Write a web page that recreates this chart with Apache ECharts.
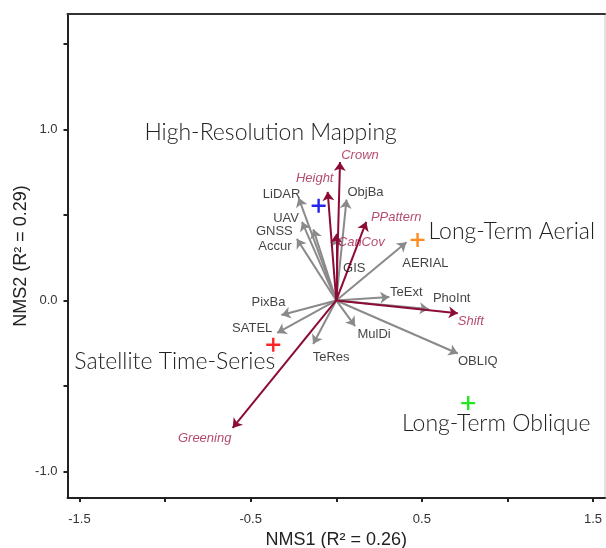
<!DOCTYPE html>
<html><head><meta charset="utf-8">
<script src="https://cdn.jsdelivr.net/npm/echarts@6/dist/echarts.min.js"></script>
<style>html,body{margin:0;padding:0;background:#fff}#c{width:606px;height:548px}</style>
</head><body><div id="c"></div>
<script>
// ---- data ----
const grayNames = ['GIS','LiDAR','UAV','GNSS','Accur','ObjBa','AERIAL','TeExt','PhoInt','PixBa','SATEL','TeRes','MulDi','OBLIQ'];
const grayX =     [0.0, -0.22, -0.20, -0.134, -0.23, 0.06, 0.41, 0.31, 0.54, -0.32, -0.345, -0.135, 0.11, 0.71];
const grayY =     [0.37, 0.60, 0.46, 0.416, 0.36, 0.59, 0.34, 0.02, -0.05, -0.085, -0.19, -0.255, -0.15, -0.31];
const redNames = ['Crown','Height','CanCov','PPattern','Shift','Greening'];
const redX =     [0.022, -0.05, 0.0, 0.175, 0.71, -0.605];
const redY =     [0.81, 0.635, 0.39, 0.46, -0.075, -0.745];
const groupNames = ['High-Resolution Mapping','Long-Term Aerial','Satellite Time-Series','Long-Term Oblique'];
const groupX = [-0.103, 0.475, -0.368, 0.771];
const groupY = [0.554, 0.354, -0.259, -0.60];
const xTicks = [-1.5,-1,-0.5,0,0.5,1,1.5];
const xTickLabels = [-1.5,-0.5,0.5,1.5];
const yTicks = [-1,-0.5,0,0.5,1,1.5];
const yTickLabels = [-1,0,1];

// ---- layout (pixel offsets for labels) ----
const labelOffset = {
  GIS:[18,31], LiDAR:[-17,-3], UAV:[-16,-3], GNSS:[-39,2], Accur:[-22,8], ObjBa:[19,-7],
  AERIAL:[19,21], TeExt:[17,-5], PhoInt:[23,-11], PixBa:[-13,-13], SATEL:[-25,-5],
  TeRes:[18,13], MulDi:[19,8], OBLIQ:[20,8],
  Crown:[20,-7], Height:[-13,-13], CanCov:[25,9], PPattern:[30,-4], Shift:[13,8], Greening:[-28,11]
};
const groupColors = ['#2424f0','#ff8a1e','#ff2424','#22e622'];
const groupLabel = [
  {offset:[-48,-73], align:'center'},
  {offset:[11,-8], align:'left'},
  {offset:[2,17], align:'right'},
  {offset:[28,20], align:'center'}
];

const GRAY = '#8a8a8a', RED = '#8c0c34', REDTXT = '#a1214e';
const FONT = '"Liberation Sans", Arial, sans-serif';

const chart = echarts.init(document.getElementById('c'), null, {renderer:'canvas'});
const fmt = v => (v < 0 ? '-' : '') + Math.abs(v).toFixed(1);
const lines = (names, xs, ys, color) => ({
  type:'lines', coordinateSystem:'cartesian2d', silent:true, z:3,
  symbol:['none','arrow'], symbolSize:9,
  lineStyle:{color:color, width:2, opacity:1},
  data: names.map((n,i)=>({coords:[[0,0],[xs[i],ys[i]]]}))
});
const labels = (names, xs, ys, color, italic) => ({
  type:'scatter', symbolSize:0, silent:true, z:5,
  label:{show:true, position:'inside', formatter:p=>p.name, color:color, fontSize:13,
    fontFamily:FONT, fontStyle: italic?'italic':'normal'},
  data: names.map((n,i)=>({name:n, value:[xs[i],ys[i]], label:{offset:labelOffset[n]}}))
});
const plusPath = 'path://M0,6L14,6L14,8.4L0,8.4ZM5.8,0L8.2,0L8.2,14.4L5.8,14.4Z';

chart.setOption({
  animation:false,
  backgroundColor:'#fff',
  grid:{left:67.5, top:14, right:1, bottom:50, show:true, borderColor:'#c8c8c8', borderWidth:1,
        outerBoundsMode:'none', containLabel:false},
  xAxis:[{
    type:'value', min:-1.57, max:1.57,
    name:'NMS1 (R\u00B2 = 0.26)', nameLocation:'middle', nameGap:33, nameMoveOverlap:false,
    nameTextStyle:{fontSize:18, color:'#222', fontFamily:FONT},
    axisLine:{show:true, onZero:false, lineStyle:{color:'#222', width:2}},
    axisTick:{show:true, length:4, customValues:xTicks, lineStyle:{color:'#222', width:2}},
    axisLabel:{customValues:xTickLabels, formatter:fmt, color:'#333', fontSize:13, fontFamily:FONT, margin:15},
    splitLine:{show:false}
  },{
    type:'value', position:'top', min:-1.57, max:1.57,
    axisLine:{show:true, onZero:false, lineStyle:{color:'#333', width:2}},
    axisTick:{show:false}, axisLabel:{show:false}, splitLine:{show:false}
  }],
  yAxis:{
    type:'value', min:-1.155, max:1.675,
    name:'NMS2 (R\u00B2 = 0.29)', nameLocation:'middle', nameGap:37, nameMoveOverlap:false,
    nameTextStyle:{fontSize:18, color:'#222', fontFamily:FONT},
    axisLine:{show:true, onZero:false, lineStyle:{color:'#222', width:2}},
    axisTick:{show:true, length:4, customValues:yTicks, lineStyle:{color:'#222', width:2}},
    axisLabel:{customValues:yTickLabels, formatter:fmt, color:'#333', fontSize:13, fontFamily:FONT, margin:10},
    splitLine:{show:false}
  },
  series:[
    lines(grayNames, grayX, grayY, GRAY),
    lines(redNames, redX, redY, RED),
    labels(grayNames, grayX, grayY, '#111', false),
    labels(redNames, redX, redY, REDTXT, true),
    {
      type:'scatter', symbol:plusPath, symbolSize:[14,14], silent:true, z:6,
      data: groupNames.map((n,i)=>({name:n, value:[groupX[i],groupY[i]],
        itemStyle:{color:groupColors[i], opacity:1},
        label:{show:true, formatter:n, position:'inside', align:groupLabel[i].align,
          offset:groupLabel[i].offset, fontSize:23, fontWeight:300, color:'#222', fontFamily:'Lato, "Open Sans", sans-serif'}}))
    }
  ]
});
</script></body></html>
